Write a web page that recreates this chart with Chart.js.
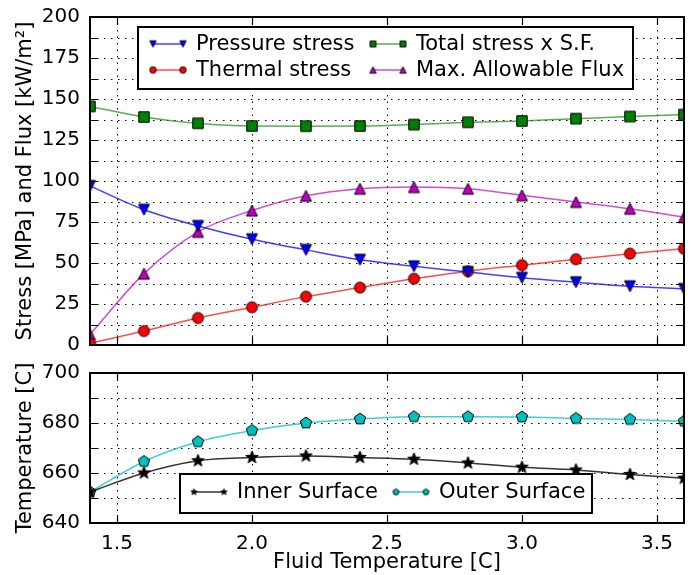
<!DOCTYPE html>
<html lang="en">
<head>
<meta charset="UTF-8">
<title>Stress, Flux and Temperature vs Fluid Temperature</title>
<script src="https://cdn.jsdelivr.net/npm/chart.js"></script>
<style>
  body { margin: 0; background: #fff; overflow: hidden; }
  #wrap { position: relative; width: 691px; height: 575px; overflow: hidden; }
  #topBox { position: absolute; left: 0; top: -5px; width: 691px; height: 372px; }
  #botBox { position: absolute; left: 0; top: 351px; width: 691px; height: 224px; }
</style>
</head>
<body>
<div id="wrap">
  <div id="topBox"><canvas id="stressChart"></canvas></div>
  <div id="botBox"><canvas id="tempChart"></canvas></div>
</div>
<script>
// data
const fluidTemp = [1.4, 1.6, 1.8, 2.0, 2.2, 2.4, 2.6, 2.8, 3.0, 3.2, 3.4, 3.6];
const pressureStress = [97, 82.5, 72.6, 64.5, 58, 52, 48, 44.5, 41, 38.3, 35.8, 34.2];
const thermalStress = [1, 8.5, 16.5, 23, 29.5, 35, 40.4, 45, 48.7, 52.3, 55.7, 58.7];
const totalStress = [145.5, 139, 135.2, 133.5, 133.4, 133.5, 134.4, 135.8, 136.6, 138, 139.3, 140.5];
const maxFlux = [6.5, 43.5, 69, 82, 91, 95.3, 96.3, 95.3, 91.3, 87.2, 83.1, 78];
const innerSurface = [652.4, 660, 664.9, 666.2, 666.8, 666.2, 665.5, 664, 662.3, 661.2, 659.4, 657.9];
const outerSurface = [652.4, 664.6, 672.5, 677, 680, 681.6, 682.5, 682.5, 682.4, 681.8, 681.4, 680.7];

const xTicks = [1.5, 2.0, 2.5, 3.0, 3.5];
const stressTickStep = 12.5, stressLabelStep = 25;
const tempTickStep = 10, tempLabelStep = 20;

const FONT = '"DejaVu Sans", "Liberation Sans", sans-serif';

// marker images (filled shape with black edge)
function makeMarker(shape, fill, r) {
    const size = Math.ceil(2 * r + 4);
    const c = document.createElement('canvas');
    c.width = size; c.height = size;
    const g = c.getContext('2d');
    g.translate(size / 2, size / 2);
    g.beginPath();
    if (shape === 'circle') {
        g.arc(0, 0, r, 0, Math.PI * 2);
    } else if (shape === 'square') {
        g.rect(-r * 0.9, -r * 0.9, r * 1.8, r * 1.8);
    } else if (shape === 'triUp' || shape === 'triDown') {
        const s = shape === 'triUp' ? 1 : -1;
        g.moveTo(0, -r * s);
        g.lineTo(-r, r * s);
        g.lineTo(r, r * s);
        g.closePath();
    } else if (shape === 'star' || shape === 'pentagon') {
        const n = shape === 'star' ? 10 : 5;
        for (let i = 0; i < n; i++) {
            const ang = -Math.PI / 2 + i * 2 * Math.PI / n;
            const rr = (shape === 'star' && i % 2) ? r * 0.42 : r;
            const px = rr * Math.cos(ang), py = rr * Math.sin(ang);
            if (i === 0) g.moveTo(px, py); else g.lineTo(px, py);
        }
        g.closePath();
    }
    g.fillStyle = fill;
    g.fill();
    g.lineWidth = 1;
    g.strokeStyle = '#000';
    g.stroke();
    return c;
}

function series(xs, ys) {
    return xs.map((x, i) => ({ x: x, y: ys[i] }));
}

function lineSet(label, ys, lineColor, shape, fill, r) {
    return {
        label: label,
        data: series(fluidTemp, ys),
        borderColor: lineColor,
        borderWidth: 1.5,
        pointStyle: makeMarker(shape, fill, r),
        legendMarker: makeMarker(shape, fill, 3.2),
        cubicInterpolationMode: 'monotone',
        clip: 0
    };
}

// dotted grid, frame and inward ticks
const frameAndGrid = {
    id: 'frameAndGrid',
    beforeDatasetsDraw(chart) {
        const { ctx, chartArea: a, scales } = chart;
        ctx.save();
        ctx.strokeStyle = '#000';
        ctx.lineWidth = 1;
        ctx.setLineDash([1.5, 5.5]);
        scales.y.ticks.forEach(t => {
            const y = Math.round(scales.y.getPixelForValue(t.value)) + 0.5;
            ctx.beginPath(); ctx.moveTo(a.left, y); ctx.lineTo(a.right, y); ctx.stroke();
        });
        ctx.setLineDash([1.5, 5]);
        scales.x.ticks.forEach(t => {
            const x = Math.round(scales.x.getPixelForValue(t.value)) + 0.5;
            ctx.beginPath(); ctx.moveTo(x, a.top); ctx.lineTo(x, a.bottom); ctx.stroke();
        });
        ctx.restore();
    },
    afterDatasetsDraw(chart) {
        const { ctx, chartArea: a, scales } = chart;
        ctx.save();
        ctx.strokeStyle = '#000';
        ctx.lineWidth = 1.2;
        const len = 8;
        scales.y.ticks.forEach(t => {
            const y = Math.round(scales.y.getPixelForValue(t.value)) + 0.5;
            ctx.beginPath();
            ctx.moveTo(a.left, y); ctx.lineTo(a.left + len, y);
            ctx.moveTo(a.right, y); ctx.lineTo(a.right - len, y);
            ctx.stroke();
        });
        scales.x.ticks.forEach(t => {
            const x = Math.round(scales.x.getPixelForValue(t.value)) + 0.5;
            ctx.beginPath();
            ctx.moveTo(x, a.bottom); ctx.lineTo(x, a.bottom - len);
            ctx.moveTo(x, a.top); ctx.lineTo(x, a.top + len);
            ctx.stroke();
        });
        ctx.lineWidth = 2;
        ctx.strokeRect(a.left, a.top, a.right - a.left, a.bottom - a.top);
        ctx.restore();
    }
};

// boxed legend drawn inside the plot area
const boxLegend = {
    id: 'boxLegend',
    afterDraw(chart, args, opts) {
        const { ctx } = chart;
        const [bx, by, bw, bh] = opts.box;
        ctx.save();
        ctx.fillStyle = '#fff';
        ctx.fillRect(bx, by, bw, bh);
        ctx.strokeStyle = '#000';
        ctx.lineWidth = 2;
        ctx.strokeRect(bx, by, bw, bh);
        ctx.font = '21px ' + FONT;
        ctx.textBaseline = 'middle';
        ctx.textAlign = 'left';
        opts.items.forEach(it => {
            const ds = chart.data.datasets[it.index];
            ctx.strokeStyle = ds.borderColor;
            ctx.lineWidth = 1.5;
            ctx.beginPath();
            ctx.moveTo(it.x, it.y); ctx.lineTo(it.x + 30, it.y);
            ctx.stroke();
            const m = ds.legendMarker;
            ctx.drawImage(m, it.x - m.width / 2, it.y - m.height / 2);
            ctx.drawImage(m, it.x + 30 - m.width / 2, it.y - m.height / 2);
            ctx.fillStyle = '#000';
            ctx.fillText(ds.label, it.x + 43, it.y + 1);
        });
        ctx.restore();
    }
};

function xScale(showLabels) {
    return {
        type: 'linear',
        min: 1.4,
        max: 3.6,
        afterBuildTicks: s => { s.ticks = xTicks.map(v => ({ value: v })); },
        afterFit: s => { s.height = showLabels ? 52 : 0; },
        grid: { display: false, drawTicks: false },
        border: { display: false },
        ticks: {
            display: showLabels,
            padding: 9,
            color: '#000',
            font: { family: FONT, size: 20 },
            callback: v => v.toFixed(1)
        },
        title: {
            display: showLabels,
            text: 'Fluid Temperature [C]',
            color: '#000',
            padding: { top: 0, bottom: 0 },
            font: { family: FONT, size: 21 }
        }
    };
}

function yScale(min, max, step, labelStep, titleText) {
    return {
        type: 'linear',
        min: min,
        max: max,
        afterFit: s => { s.width = 90; },
        grid: { display: false, drawTicks: false },
        border: { display: false },
        ticks: {
            stepSize: step,
            autoSkip: false,
            padding: 10,
            color: '#000',
            font: { family: FONT, size: 20 },
            callback: v => (Math.abs(v % labelStep) < 1e-6 ? v : '')
        },
        title: {
            display: true,
            text: titleText,
            color: '#000',
            padding: { top: 13, bottom: 0 },
            font: { family: FONT, size: 21 }
        }
    };
}

const stressChart = new Chart(document.getElementById('stressChart'), {
    type: 'line',
    data: {
        datasets: [
            lineSet('Pressure stress', pressureStress, 'rgba(0,0,255,0.75)', 'triDown', '#0000ff', 5.5),
            lineSet('Thermal stress', thermalStress, 'rgba(255,0,0,0.7)', 'circle', '#ff0000', 5.5),
            lineSet('Total stress x S.F.', totalStress, 'rgba(0,128,0,0.65)', 'square', '#008000', 5.8),
            lineSet('Max. Allowable Flux', maxFlux, 'rgba(191,0,191,0.7)', 'triUp', '#bf00bf', 5.5)
        ]
    },
    options: {
        responsive: true,
        maintainAspectRatio: false,
        animation: false,
        events: [],
        layout: { padding: { top: 11, right: 7, bottom: 0, left: 0 } },
        scales: {
            x: xScale(false),
            y: yScale(0, 200, stressTickStep, stressLabelStep, 'Stress [MPa] and Flux [kW/m\u00B2]')
        },
        plugins: {
            legend: { display: false },
            tooltip: { enabled: false },
            boxLegend: {
                box: [138, 32, 495, 62],
                items: [
                    { index: 0, x: 153, y: 49 },
                    { index: 1, x: 153, y: 75 },
                    { index: 2, x: 373, y: 49 },
                    { index: 3, x: 373, y: 75 }
                ]
            }
        }
    },
    plugins: [frameAndGrid, boxLegend]
});

const tempChart = new Chart(document.getElementById('tempChart'), {
    type: 'line',
    data: {
        datasets: [
            lineSet('Inner Surface', innerSurface, 'rgba(0,0,0,0.8)', 'star', '#000000', 6.5),
            lineSet('Outer Surface', outerSurface, 'rgba(0,191,191,0.75)', 'pentagon', '#00bfbf', 6)
        ]
    },
    options: {
        responsive: true,
        maintainAspectRatio: false,
        animation: false,
        events: [],
        layout: { padding: { top: 11, right: 7, bottom: 0, left: 0 } },
        scales: {
            x: xScale(true),
            y: yScale(640, 700, tempTickStep, tempLabelStep, 'Temperature [C]')
        },
        plugins: {
            legend: { display: false },
            tooltip: { enabled: false },
            boxLegend: {
                box: [180, 123, 412, 39],
                items: [
                    { index: 0, x: 194, y: 141 },
                    { index: 1, x: 396, y: 141 }
                ]
            }
        }
    },
    plugins: [frameAndGrid, boxLegend]
});
</script>
</body>
</html>
